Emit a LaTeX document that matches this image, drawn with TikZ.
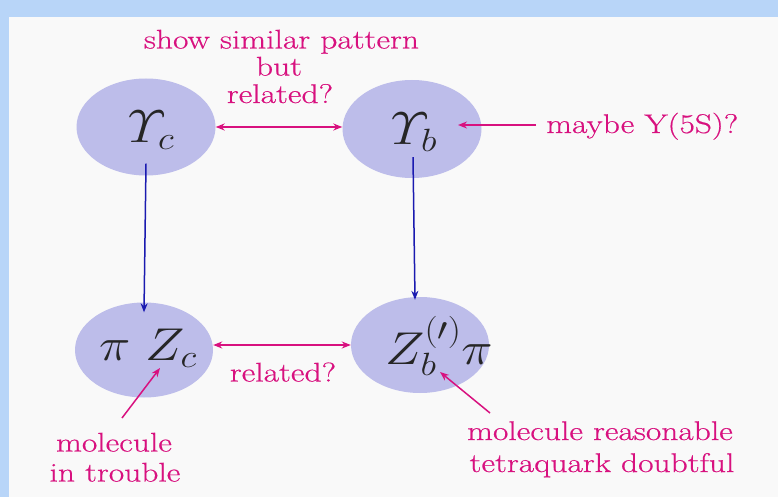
\RequirePackage{fix-cm}
\documentclass[tikz,border=0pt]{standalone}
\usepackage{amsmath}
\usepackage{fontspec}
\usepackage{graphicx}
\newfontfamily\lblfont{Latin Modern Roman}[FakeStretch=1.24,FakeBold=0.5]
\usetikzlibrary{shapes.geometric,arrows.meta,calc}
\definecolor{bgblue}{HTML}{B8D5F8}
\definecolor{panel}{HTML}{F9F9F9}
\definecolor{ellfill}{HTML}{BDBDEA}
\definecolor{pinkc}{HTML}{D8117F}
\definecolor{bluec}{HTML}{1A1AB0}
\tikzset{
  ell/.style={ellipse, fill=ellfill, draw=none, inner sep=0pt},
  lbl/.style={text=pinkc, font=\lblfont\fontsize{27}{27}\selectfont, inner sep=0pt, anchor=base},
  mth/.style={font=\fontsize{46}{46}\selectfont, inner sep=0pt, text=black!85},
  pinkarr/.style={draw=pinkc, line width=1.5pt, -{Stealth[length=9pt,width=7pt]}},
  pinkdbl/.style={draw=pinkc, line width=1.5pt, {Stealth[length=9pt,width=7pt]}-{Stealth[length=9pt,width=7pt]}},
  bluearr/.style={draw=bluec, line width=1.5pt, -{Stealth[length=9pt,width=7pt]}}
}
\newcommand{\wide}[1]{\scalebox{1.15}[1]{#1}}
\begin{document}
\begin{tikzpicture}[x=1pt,y=-1pt]
\useasboundingbox (0,0) rectangle (778,497);
\fill[bgblue] (0,0) rectangle (778,497);
\fill[panel] (9,17) rectangle (778,497);
% ellipses
\node[ell, minimum width=139pt, minimum height=97pt] (yc) at (146,127) {};
\node[ell, minimum width=139pt, minimum height=98pt] (yb) at (412,129) {};
\node[ell, minimum width=138pt, minimum height=95pt] (zc) at (144,350) {};
\node[ell, minimum width=138pt, minimum height=96pt] (zb) at (420,345) {};
% math labels
\node[mth] (tyc) at (151,130) {\wide{$\varUpsilon_c$}};
\node[mth] (tyb) at (414,132) {\wide{$\varUpsilon_b$}};
\node[mth] (tzc) at (148,348) {\wide{$\pi\;Z_c$}};
\node[mth] (tzb) at (439,346) {\wide{$Z_b^{(\prime)}\pi$}};
% text labels
\node[lbl] (top1) at (281.5,48.5) {show similar pattern};
\node[lbl] (top2) at (279,75.5) {but};
\node[lbl] (top3) at (280,103) {related?};
\node[lbl] (rel) at (283,381.5) {related?};
\node[lbl, anchor=base west] (maybe) at (546,133) {maybe Y(5S)?};
\node[lbl] (mol1a) at (114,451.5) {molecule};
\node[lbl] (mol1b) at (115,481.5) {in trouble};
\node[lbl] (mol2a) at (600,440) {molecule reasonable};
\node[lbl] (mol2b) at (602,472) {tetraquark doubtful};
% arrow endpoints
\coordinate (ybtip) at (458,125);
\coordinate (m1tail) at (122,418);
\coordinate (m1tip) at (160,368);
\coordinate (m2tail) at (490,413);
\coordinate (m2tip) at (440,372);
% connectors
\draw[pinkdbl] (yc.east) -- (yc.east -| yb.west);
\draw[pinkdbl] (zb.west -| zc.east) -- (zb.west);
\draw[bluearr] ($(yc.south)+(0,-12)$) -- ($(zc.north)+(0,10)$);
\draw[bluearr] ($(yb.south)+(1,-21)$) -- ($(zb.north)+(-5,3)$);
\draw[pinkarr] (maybe.west |- ybtip) ++(-10,0) -- (ybtip);
\draw[pinkarr] (m1tail) -- (m1tip);
\draw[pinkarr] (m2tail) -- (m2tip);
\end{tikzpicture}
\end{document}
